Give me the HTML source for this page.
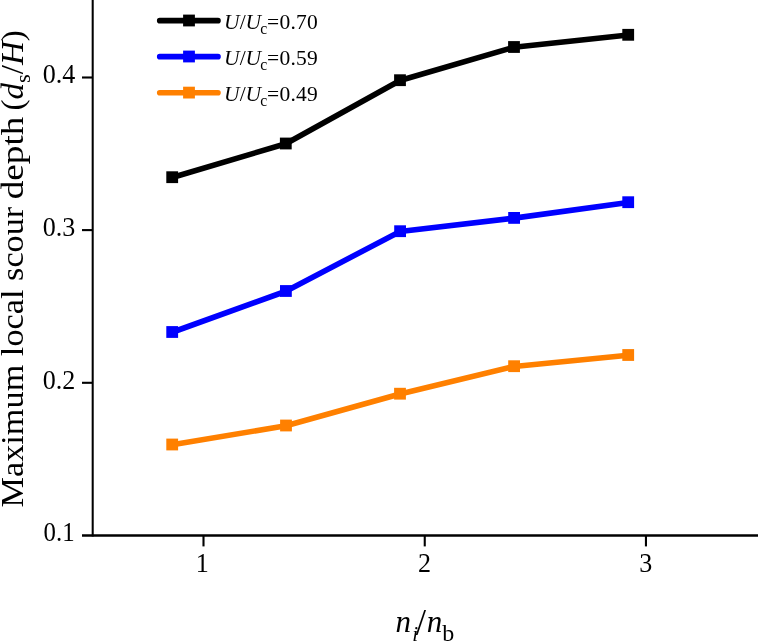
<!DOCTYPE html>
<html><head><meta charset="utf-8"><title>Chart</title>
<style>
html,body{margin:0;padding:0;background:#fff;}
body{width:758px;height:641px;overflow:hidden;}
svg{display:block;}
text{font-family:"Liberation Serif","DejaVu Serif",serif;fill:#000;}
.tick{font-size:27px;}
.leg{font-size:21.5px;}
</style></head><body>
<svg width="758" height="641" viewBox="0 0 758 641">
<rect width="758" height="641" fill="#fff"/>
<!-- axes -->
<g stroke="#000" stroke-width="2.1" fill="none" stroke-linecap="butt">
<line x1="92.7" y1="0" x2="92.7" y2="536.6" stroke-width="2.05"/>
<line x1="82" y1="535.45" x2="758" y2="535.45" stroke-width="2.4"/>
<line x1="82" y1="77.5" x2="92" y2="77.5"/>
<line x1="82" y1="230.1" x2="92" y2="230.1"/>
<line x1="82" y1="382.8" x2="92" y2="382.8"/>
<line x1="203.5" y1="535.5" x2="203.5" y2="546.4"/>
<line x1="424.75" y1="535.5" x2="424.75" y2="546.4"/>
<line x1="645.95" y1="535.5" x2="645.95" y2="546.4"/>
</g>
<!-- series -->
<g fill="none" stroke-width="5.6" stroke-linejoin="round" stroke-linecap="round" transform="translate(0,0.25)">
<polyline stroke="#000" points="172.2,177.2 285.8,143.5 400,80.2 514,47 628.2,34.8"/>
<polyline stroke="#0000ff" points="172.2,332 285.9,291 400.1,231.2 514.1,217.9 628.2,202.2"/>
<polyline stroke="#ff8000" points="172.2,444.5 286,425.5 400,393.7 514.1,366.2 628.2,355"/>
</g>
<g fill="#000">
<rect x="166.3" y="171.3" width="11.8" height="11.8"/>
<rect x="279.9" y="137.6" width="11.8" height="11.8"/>
<rect x="394.1" y="74.3" width="11.8" height="11.8"/>
<rect x="508.1" y="41.1" width="11.8" height="11.8"/>
<rect x="622.3" y="28.9" width="11.8" height="11.8"/>
</g>
<g fill="#0000ff">
<rect x="166.3" y="326.1" width="11.8" height="11.8"/>
<rect x="280.0" y="285.1" width="11.8" height="11.8"/>
<rect x="394.2" y="225.3" width="11.8" height="11.8"/>
<rect x="508.2" y="212.0" width="11.8" height="11.8"/>
<rect x="622.3" y="196.3" width="11.8" height="11.8"/>
</g>
<g fill="#ff8000">
<rect x="166.3" y="438.6" width="11.8" height="11.8"/>
<rect x="280.1" y="419.6" width="11.8" height="11.8"/>
<rect x="394.1" y="387.8" width="11.8" height="11.8"/>
<rect x="508.2" y="360.3" width="11.8" height="11.8"/>
<rect x="622.3" y="349.1" width="11.8" height="11.8"/>
</g>
<!-- legend -->
<g fill="none" stroke-width="5.6" stroke-linecap="round">
<line stroke="#000" x1="159.7" y1="20.65" x2="218" y2="20.65"/>
<line stroke="#0000ff" x1="159.7" y1="56.65" x2="218" y2="56.65"/>
<line stroke="#ff8000" x1="159.7" y1="92.7" x2="218" y2="92.7"/>
</g>
<rect fill="#000" x="183.1" y="14.6" width="11.8" height="11.8"/>
<rect fill="#0000ff" x="183.1" y="50.6" width="11.8" height="11.8"/>
<rect fill="#ff8000" x="183.1" y="86.7" width="11.8" height="11.8"/>
<g class="leg">
<text id="l1" transform="translate(224.1,29) scale(1,1)"><tspan font-style="italic">U</tspan>/<tspan font-style="italic">U</tspan><tspan font-size="15.7" dy="5.2" dx="-1">c</tspan><tspan dy="-5.2" letter-spacing="0.2">=0.70</tspan></text>
<text id="l2" transform="translate(224.1,64.6) scale(1,1)"><tspan font-style="italic">U</tspan>/<tspan font-style="italic">U</tspan><tspan font-size="15.7" dy="5.2" dx="-1">c</tspan><tspan dy="-5.2" letter-spacing="0.2">=0.59</tspan></text>
<text id="l3" transform="translate(224.1,101.0) scale(1,1)"><tspan font-style="italic">U</tspan>/<tspan font-style="italic">U</tspan><tspan font-size="15.7" dy="5.2" dx="-1">c</tspan><tspan dy="-5.2" letter-spacing="0.2">=0.49</tspan></text>
</g>
<!-- tick labels -->
<g class="tick">
<text id="y4" transform="translate(75.4,83.3) scale(0.965,1)" text-anchor="end">0.4</text>
<text id="y3" transform="translate(75.4,235.9) scale(0.965,1)" text-anchor="end">0.3</text>
<text id="y2" transform="translate(75.4,388.6) scale(0.965,1)" text-anchor="end">0.2</text>
<text id="y1" transform="translate(74.6,541.3) scale(0.92,1)" text-anchor="end">0.1</text>
<text id="x1" transform="translate(202.3,571.5) scale(0.965,1)" text-anchor="middle">1</text>
<text id="x2" transform="translate(424.5,571.5) scale(0.965,1)" text-anchor="middle">2</text>
<text id="x3" transform="translate(645.7,571.5) scale(0.965,1)" text-anchor="middle">3</text>
</g>
<!-- axis titles -->
<text id="yl" transform="translate(22.8,507.5) rotate(-90) scale(1.106,1)" font-size="31">Maximum local scour</text>
<text id="yl1" transform="translate(22.8,199.3) rotate(-90) scale(1.2,1)" font-size="31">depth</text>
<text id="yl2" transform="translate(22.8,110.5) rotate(-90) scale(1.066,1)" font-size="31">(<tspan font-style="italic">d</tspan><tspan font-size="21" dy="7">s</tspan><tspan dy="-7">/</tspan><tspan font-style="italic">H</tspan>)</text>
<text id="xl" transform="translate(395.5,631.8)" font-size="31"><tspan font-style="italic">n</tspan><tspan font-size="21" dx="1.2" dy="9" font-style="italic">i</tspan><tspan font-size="37" dy="-6" dx="-2.3">/</tspan><tspan font-style="italic" dy="-3" dx="0.7">n</tspan><tspan font-size="24" dy="9">b</tspan></text>
</svg>
</body></html>
